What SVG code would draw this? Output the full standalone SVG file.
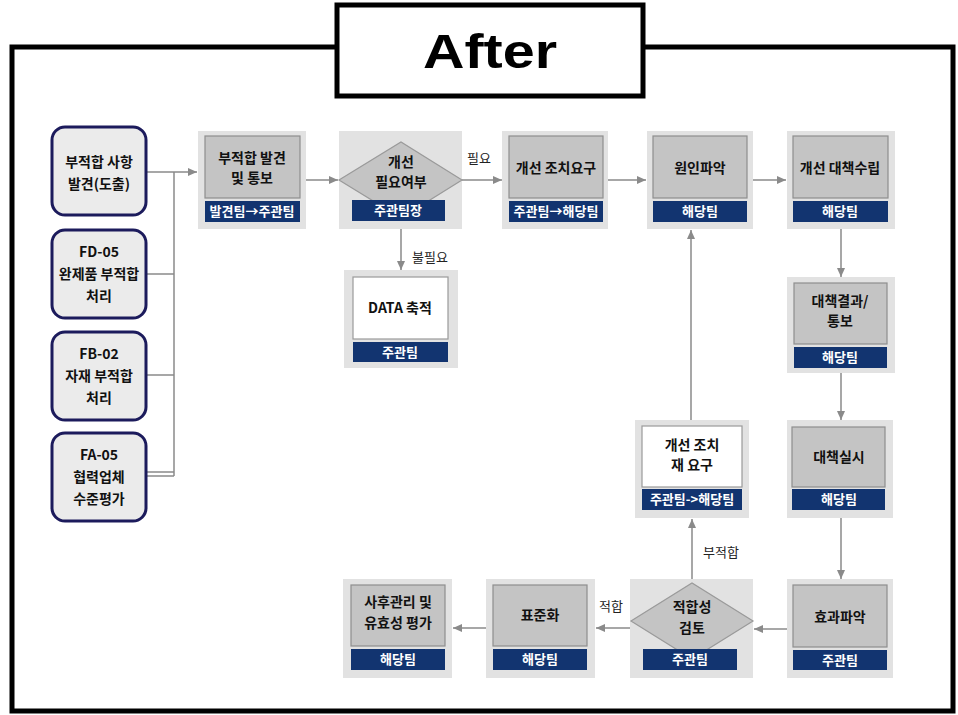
<svg xmlns="http://www.w3.org/2000/svg" width="958" height="715" viewBox="0 0 958 715">
<defs>
<marker id="ah" markerWidth="10" markerHeight="10" refX="9" refY="5" orient="auto" markerUnits="userSpaceOnUse">
<path d="M0,1 L9,5 L0,9 Z" fill="#8a8a8a"/>
</marker>
<style>
.panel{fill:#e2e2e2;stroke:none}
.inner{fill:#c4c4c4;stroke:#8e8e8e;stroke-width:1.2}
.white{fill:#ffffff;stroke:#9a9a9a;stroke-width:1.2}
.bar{fill:#123470;stroke:none}
.dia{fill:#c4c4c4;stroke:#9a9a9a;stroke-width:1.2}
.left{fill:#ebebeb;stroke:#1c1b5c;stroke-width:3}
.t{font-family:"Noto Sans CJK KR","Liberation Sans",sans-serif;font-weight:bold;font-size:14px;fill:#111;text-anchor:middle}
.bt{font-family:"Noto Sans CJK KR","Liberation Sans",sans-serif;font-weight:bold;font-size:13px;fill:#ffffff;text-anchor:middle}
.lab{font-family:"Noto Sans CJK KR","Liberation Sans",sans-serif;font-size:13px;fill:#222;text-anchor:middle}
.c{fill:none;stroke:#8a8a8a;stroke-width:1.5}
.ca{fill:none;stroke:#8a8a8a;stroke-width:1.5;marker-end:url(#ah)}
</style>
</defs>
<rect x="0" y="0" width="958" height="715" fill="#ffffff"/>
<rect x="12" y="47" width="941" height="664" fill="#ffffff" stroke="#000" stroke-width="5"/>
<g id="title">
<rect x="337" y="5" width="306" height="91" fill="#ffffff" stroke="#000" stroke-width="5"/>
<text x="490" y="68" font-family="Liberation Sans, Arial, sans-serif" font-weight="bold" font-size="48" text-anchor="middle" textLength="134" lengthAdjust="spacingAndGlyphs">After</text>
</g>

<g id="connectors">
<path class="c" d="M146,172 H174 M146,274 H174 M146,375 H174 M146,472 H174 M146,476 H174 M174,172 V476"/>
<path class="ca" d="M174,172 H197"/>
<path class="ca" d="M306,180 H338"/>
<path class="ca" d="M462,180 H502"/>
<path class="ca" d="M401,229 V270"/>
<path class="ca" d="M608,180 H646"/>
<path class="ca" d="M753,180 H786"/>
<path class="ca" d="M841,229 V277"/>
<path class="ca" d="M841,373 V420"/>
<path class="ca" d="M841,518 V579"/>
<path class="ca" d="M787,629 H754"/>
<path class="ca" d="M692,580 V519"/>
<path class="ca" d="M691,420 V230"/>
<path class="ca" d="M630,628 H596"/>
<path class="ca" d="M486,628 H453"/>
<text class="lab" x="479" y="163">필요</text>
<text class="lab" x="430" y="262">불필요</text>
<text class="lab" x="721" y="557">부적합</text>
<text class="lab" x="611" y="611">적합</text>
</g>

<g id="src1">
<rect class="left" x="52" y="127" width="94" height="88" rx="13"/>
<text class="t" x="99" y="167">부적합 사항</text>
<text class="t" x="99" y="189">발견(도출)</text>
</g>
<g id="src2">
<rect class="left" x="52" y="230" width="94" height="88" rx="13"/>
<text class="t" x="99" y="257">FD-05</text>
<text class="t" x="99" y="279">완제품 부적합</text>
<text class="t" x="99" y="301">처리</text>
</g>
<g id="src3">
<rect class="left" x="52" y="332" width="94" height="88" rx="13"/>
<text class="t" x="99" y="359">FB-02</text>
<text class="t" x="99" y="381">자재 부적합</text>
<text class="t" x="99" y="403">처리</text>
</g>
<g id="src4">
<rect class="left" x="52" y="433" width="94" height="88" rx="13"/>
<text class="t" x="99" y="460">FA-05</text>
<text class="t" x="99" y="482">협력업체</text>
<text class="t" x="99" y="504">수준평가</text>
</g>

<g id="nA">
<rect class="panel" x="198" y="131" width="108" height="98"/>
<rect class="inner" x="205" y="136" width="95" height="62"/>
<text class="t" x="252" y="163">부적합 발견</text>
<text class="t" x="252" y="183">및 통보</text>
<rect class="bar" x="205" y="201" width="95" height="21"/>
<text class="bt" x="252" y="216">발견팀→주관팀</text>
</g>
<g id="nB">
<rect class="panel" x="339" y="131" width="123" height="98"/>
<polygon class="dia" points="339,180 401,142 462,180 401,218"/>
<text class="t" x="401" y="167">개선</text>
<text class="t" x="401" y="187">필요여부</text>
<rect class="bar" x="352" y="200" width="93" height="21"/>
<text class="bt" x="398" y="215">주관팀장</text>
</g>
<g id="nData">
<rect class="panel" x="344" y="270" width="114" height="98"/>
<rect class="white" x="353" y="277" width="95" height="62"/>
<text class="t" x="400" y="313">DATA 축적</text>
<rect class="bar" x="353" y="342" width="95" height="20"/>
<text class="bt" x="400" y="357">주관팀</text>
</g>
<g id="nC">
<rect class="panel" x="502" y="131" width="106" height="98"/>
<rect class="inner" x="509" y="136" width="94" height="62"/>
<text class="t" x="556" y="173">개선 조치요구</text>
<rect class="bar" x="509" y="201" width="94" height="21"/>
<text class="bt" x="556" y="216">주관팀→해당팀</text>
</g>
<g id="nD">
<rect class="panel" x="647" y="131" width="106" height="98"/>
<rect class="inner" x="653" y="136" width="94" height="62"/>
<text class="t" x="700" y="173">원인파악</text>
<rect class="bar" x="653" y="201" width="94" height="21"/>
<text class="bt" x="700" y="216">해당팀</text>
</g>
<g id="nE">
<rect class="panel" x="787" y="131" width="108" height="98"/>
<rect class="inner" x="793" y="136" width="95" height="62"/>
<text class="t" x="840" y="173">개선 대책수립</text>
<rect class="bar" x="793" y="201" width="95" height="21"/>
<text class="bt" x="840" y="216">해당팀</text>
</g>
<g id="nF">
<rect class="panel" x="787" y="277" width="108" height="96"/>
<rect class="inner" x="794" y="283" width="93" height="61"/>
<text class="t" x="840" y="306">대책결과/</text>
<text class="t" x="840" y="326">통보</text>
<rect class="bar" x="794" y="347" width="93" height="21"/>
<text class="bt" x="840" y="362">해당팀</text>
</g>
<g id="nG">
<rect class="panel" x="787" y="420" width="106" height="98"/>
<rect class="inner" x="792" y="427" width="93" height="60"/>
<text class="t" x="839" y="462">대책실시</text>
<rect class="bar" x="792" y="489" width="93" height="21"/>
<text class="bt" x="839" y="504">해당팀</text>
</g>
<g id="nH">
<rect class="panel" x="787" y="579" width="106" height="99"/>
<rect class="inner" x="793" y="585" width="94" height="62"/>
<text class="t" x="840" y="622">효과파악</text>
<rect class="bar" x="793" y="650" width="94" height="20"/>
<text class="bt" x="840" y="665">주관팀</text>
</g>
<g id="nI">
<rect class="panel" x="630" y="579" width="123" height="99"/>
<polygon class="dia" points="631,621 692,583 753,621 692,659"/>
<text class="t" x="692" y="612">적합성</text>
<text class="t" x="692" y="633">검토</text>
<rect class="bar" x="643" y="649" width="94" height="21"/>
<text class="bt" x="690" y="664">주관팀</text>
</g>
<g id="nJ">
<rect class="panel" x="635" y="420" width="114" height="98"/>
<rect class="white" x="642" y="426" width="100" height="61"/>
<text class="t" x="692" y="450">개선 조치</text>
<text class="t" x="692" y="470">재 요구</text>
<rect class="bar" x="642" y="489" width="100" height="21"/>
<text class="bt" x="692" y="504">주관팀-&gt;해당팀</text>
</g>
<g id="nK">
<rect class="panel" x="486" y="579" width="109" height="99"/>
<rect class="inner" x="493" y="585" width="94" height="61"/>
<text class="t" x="540" y="620">표준화</text>
<rect class="bar" x="493" y="649" width="94" height="21"/>
<text class="bt" x="540" y="664">해당팀</text>
</g>
<g id="nL">
<rect class="panel" x="343" y="579" width="109" height="99"/>
<rect class="inner" x="351" y="585" width="94" height="61"/>
<text class="t" x="398" y="607">사후관리 및</text>
<text class="t" x="398" y="628">유효성 평가</text>
<rect class="bar" x="351" y="649" width="94" height="21"/>
<text class="bt" x="398" y="664">해당팀</text>
</g>
</svg>
